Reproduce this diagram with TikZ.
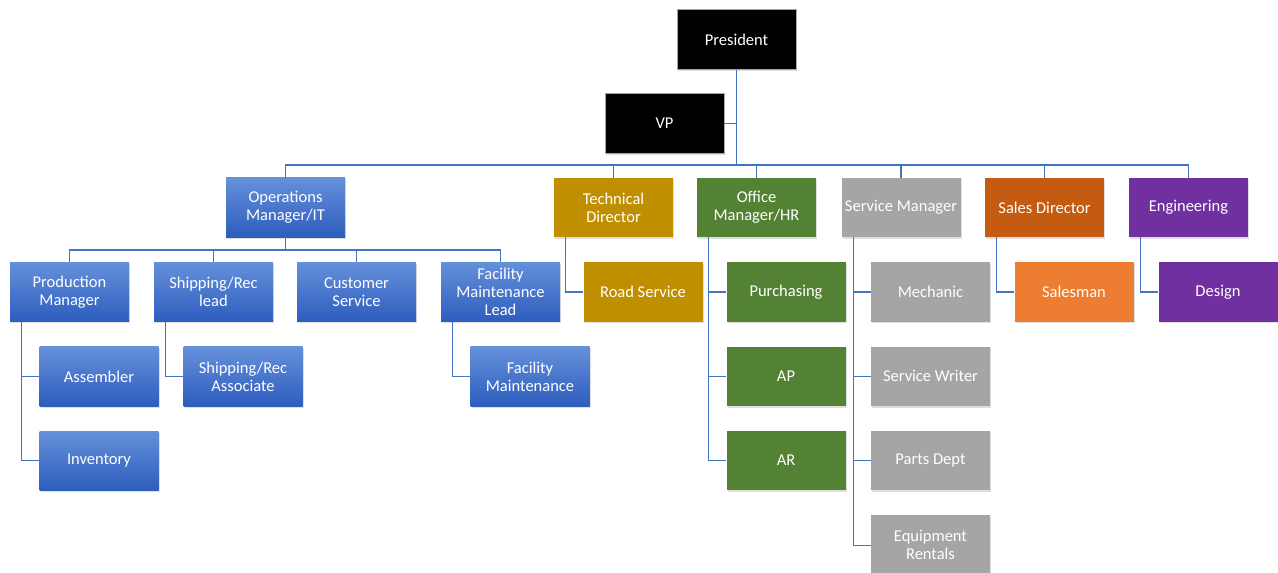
\documentclass[tikz,border=0pt]{standalone}
\usepackage{fontspec}
\setmainfont{Carlito}
\usetikzlibrary{positioning, shadows}

\definecolor{linkblue}{HTML}{4472C4}
\definecolor{opstop}{HTML}{6590DA}
\definecolor{opsbottom}{HTML}{2D5DBE}
\definecolor{techgold}{HTML}{BF8F00}
\definecolor{officegreen}{HTML}{548235}
\definecolor{servicegray}{HTML}{A5A5A5}
\definecolor{salesrust}{HTML}{C55A11}
\definecolor{salesorange}{HTML}{ED7D31}
\definecolor{engpurple}{HTML}{7030A0}

\tikzset{
  unit/.style={minimum width=119pt, minimum height=59.5pt, inner sep=1pt,
    align=center, text=white, font=\fontsize{16.5}{18}\selectfont,
    drop shadow={shadow xshift=1.2pt, shadow yshift=-1.5pt, opacity=0.25}},
  topunit/.style={unit, fill=black, draw=black!35, line width=0.6pt},
  opsunit/.style={unit, top color=opstop, bottom color=opsbottom},
  techunit/.style={unit, fill=techgold},
  officeunit/.style={unit, fill=officegreen},
  serviceunit/.style={unit, fill=servicegray},
  salesunit/.style={unit, fill=salesrust},
  salesmanunit/.style={unit, fill=salesorange},
  engunit/.style={unit, fill=engpurple},
  link/.style={draw=linkblue, line width=1.2pt},
  sub/.style={below=24.5pt of #1, xshift=29.5pt},
  next/.style={below=24.5pt of #1}
}

\begin{document}
\begin{tikzpicture}[x=1pt, y=-1pt]
\useasboundingbox (0,0) rectangle (1278,573);
\clip (0,0) rectangle (1278,573);

% Top
\node[topunit] (pres) at (736.5,39.5) {President};
\node[topunit] (vp) at (664.5,123.5) {VP};

% Departments
\node[opsunit] (ops) at (285.5,207.5) {Operations\\Manager/IT};
\node[techunit] (tech) at (613.5,207.5) {Technical\\Director};
\node[officeunit] (office) at (756.5,207.5) {Office\\Manager/HR};
\node[serviceunit] (service) at (901,207.5) {Service Manager};
\node[salesunit] (sales) at (1044.5,207.5) {Sales Director};
\node[engunit] (eng) at (1188.5,207.5) {Engineering};

% Operations
\node[opsunit] (prod) at (69.5,292) {Production\\Manager};
\node[opsunit] (ship) at (213.5,292) {Shipping/Rec\\lead};
\node[opsunit] (cust) at (356.5,292) {Customer\\Service};
\node[opsunit] (facl) at (500.5,292) {Facility\\Maintenance\\Lead};
\node[opsunit, sub=prod] (asm) {Assembler};
\node[opsunit, next=asm] (inv) {Inventory};
\node[opsunit, sub=ship] (shipa) {Shipping/Rec\\Associate};
\node[opsunit, sub=facl] (facm) {Facility\\Maintenance};

% Technical
\node[techunit, sub=tech] (road) {Road Service};

% Office
\node[officeunit, sub=office] (purch) {Purchasing};
\node[officeunit, next=purch] (ap) {AP};
\node[officeunit, next=ap] (ar) {AR};

% Service
\node[serviceunit, sub=service] (mech) {Mechanic};
\node[serviceunit, next=mech] (writer) {Service Writer};
\node[serviceunit, next=writer] (parts) {Parts Dept};
\node[serviceunit, next=parts] (rent) {Equipment\\Rentals};

% Sales and engineering
\node[salesmanunit, sub=sales] (salesman) {Salesman};
\node[engunit, sub=eng] (design) {Design};

% Links
\coordinate (bus) at (736.5,165);
\coordinate (opsbus) at (285.5,250);
\draw[link] (pres.south) |- (vp.east);
\draw[link] (pres.south) -- (bus);
\foreach \n in {ops,tech,office,service,sales,eng}
  \draw[link] (bus) -| (\n.north);
\draw[link] (ops.south) -- (opsbus);
\foreach \n in {prod,ship,cust,facl}
  \draw[link] (opsbus) -| (\n.north);
\foreach \p/\c in {prod/asm, prod/inv, ship/shipa, facl/facm, tech/road,
    office/purch, office/ap, office/ar, service/mech, service/writer,
    service/parts, service/rent, sales/salesman, eng/design}
  \draw[link] ([xshift=12pt]\p.south west) |- (\c.west);
\end{tikzpicture}
\end{document}
